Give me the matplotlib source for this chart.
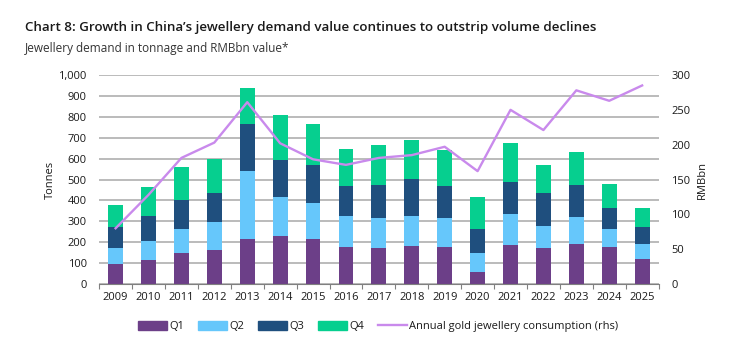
import matplotlib
matplotlib.use("Agg")
import matplotlib.pyplot as plt
import numpy as np
from matplotlib.patches import Patch
from matplotlib.lines import Line2D

plt.rcParams['font.family'] = ['Open Sans', 'DejaVu Sans']

years = ['2009', '2010', '2011', '2012', '2013', '2014', '2015', '2016', '2017',
         '2018', '2019', '2020', '2021', '2022', '2023', '2024', '2025']
q1 = [97, 115, 150, 164, 214, 231, 214, 179, 174, 183, 179, 57, 188, 172, 191, 179, 120]
q2 = [77, 91, 113, 131, 327, 184, 172, 148, 140, 144, 135, 91, 145, 104, 131, 86, 70]
q3 = [100, 119, 141, 142, 226, 178, 183, 142, 161, 174, 155, 117, 157, 159, 152, 100, 83]
q4 = [104, 139, 154, 163, 172, 214, 198, 177, 192, 186, 171, 151, 185, 136, 158, 115, 89]
value_rmb = [80, 128, 181, 203, 261, 202, 179, 171, 181, 185, 197, 162, 250, 221, 278, 263, 285]

c_q1 = '#6c3f88'
c_q2 = '#66c7fb'
c_q3 = '#1f4f7e'
c_q4 = '#06cf8f'
c_line = '#c98aec'
grid_c = '#a8a8a8'
txt = '#1a1a1a'

fig = plt.figure(figsize=(7.40, 3.53), dpi=100)
ax = fig.add_axes([0.134, 0.1955, 0.756, 0.592])
x = np.arange(len(years))
w = 0.45
b1 = np.array(q1)
b2 = b1 + np.array(q2)
b3 = b2 + np.array(q3)
ax.bar(x, q1, w, color=c_q1, zorder=2)
ax.bar(x, q2, w, bottom=b1, color=c_q2, zorder=2)
ax.bar(x, q3, w, bottom=b2, color=c_q3, zorder=2)
ax.bar(x, q4, w, bottom=b3, color=c_q4, zorder=2)

ax.set_xlim(-0.5, len(years) - 0.5)
ax.set_ylim(0, 1000)
ax.set_yticks(np.arange(0, 1001, 100))
ax.set_yticklabels([f'{v:,}' for v in range(0, 1001, 100)])
ax.yaxis.grid(True, color=grid_c, linewidth=1.1, zorder=0)
ax.set_axisbelow(True)
ax.set_xticks(x)
ax.set_xticklabels(years)
ax.set_xticks(np.arange(-0.5, len(years), 1), minor=True)
ax.tick_params(axis='x', which='major', length=0, pad=6, labelsize=8, colors=txt)
ax.tick_params(axis='x', which='minor', length=3.5, width=0.8, color='#808080', direction='out')
ax.tick_params(axis='y', length=0, pad=9, labelsize=8, colors=txt)
for s in ['top', 'left', 'right']:
    ax.spines[s].set_visible(False)
ax.spines['bottom'].set_color('#808080')
ax.spines['bottom'].set_linewidth(0.8)
ax.set_ylabel('Tonnes', fontsize=8, color=txt, labelpad=1.5)

ax2 = ax.twinx()
ax2.plot(x, value_rmb, color=c_line, linewidth=1.7, zorder=3)
ax2.set_ylim(0, 300)
ax2.set_yticks(np.arange(0, 301, 50))
ax2.tick_params(axis='y', length=0, pad=9, labelsize=8, colors=txt)
for s in ['top', 'left', 'right', 'bottom']:
    ax2.spines[s].set_visible(False)
ax2.set_ylabel('RMBbn', fontsize=8, color=txt, labelpad=4.5)

fig.text(0.034, 0.913, 'Chart 8: Growth in China\u2019s jewellery demand value continues to outstrip volume declines',
         fontsize=9.6, color=txt, fontweight='semibold', va='baseline')
fig.text(0.034, 0.853, 'Jewellery demand in tonnage and RMBbn value*', fontsize=8.5, color='#333333',
         va='baseline')

handles = [Patch(color=c_q1), Patch(color=c_q2), Patch(color=c_q3), Patch(color=c_q4),
           Line2D([0], [0], color=c_line, linewidth=1.7)]
labels = ['Q1', 'Q2', 'Q3', 'Q4', 'Annual gold jewellery consumption (rhs)']
fig.legend(handles, labels, loc='center', bbox_to_anchor=(0.511, 0.074), ncol=5, frameon=False,
           fontsize=8, handlelength=2.6, handleheight=0.8, handletextpad=0.2, columnspacing=1.25,
           labelcolor=txt)

fig.savefig('out.png', dpi=100)
